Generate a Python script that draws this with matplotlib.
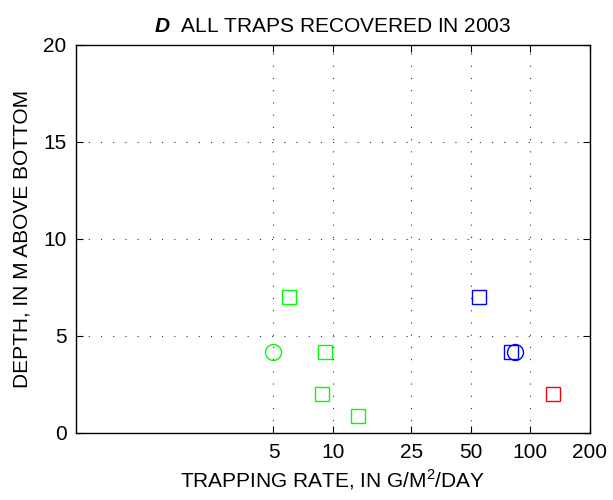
import matplotlib
matplotlib.use("Agg")
import matplotlib.pyplot as plt

plt.rcParams["font.family"] = ["Liberation Sans", "DejaVu Sans"]
plt.rcParams["mathtext.fontset"] = "custom"
plt.rcParams["mathtext.rm"] = "Liberation Sans"
plt.rcParams["mathtext.bfit"] = "Liberation Sans:italic:bold"

# green traps
green_sq_rate = [6.0, 9.1, 8.8, 13.4]
green_sq_depth = [7.0, 4.15, 2.0, 0.9]
green_ci_rate = [5.0]
green_ci_depth = [4.15]

# blue traps
blue_sq_rate = [55, 80]
blue_sq_depth = [7.0, 4.15]
blue_ci_rate = [84]
blue_ci_depth = [4.15]

# red trap
red_sq_rate = [130]
red_sq_depth = [2.0]

xticks = [5, 10, 25, 50, 100, 200]
yticks = [0, 5, 10, 15, 20]

fs = 15

fig = plt.figure(figsize=(6.13, 5.0), dpi=100)
ax = fig.add_axes([0.1243, 0.134, 0.8375, 0.777])

mk = dict(linestyle="none", markerfacecolor="none", markeredgewidth=1.0)
ax.plot(green_sq_rate, green_sq_depth, marker="s", markersize=9.5, color="#00ff00", **mk)
ax.plot(green_ci_rate, green_ci_depth, marker="o", markersize=11.5, color="#00ff00", **mk)
ax.plot(blue_sq_rate, blue_sq_depth, marker="s", markersize=9.5, color="#0000ff", **mk)
ax.plot(blue_ci_rate, blue_ci_depth, marker="o", markersize=11.5, color="#0000ff", **mk)
ax.plot(red_sq_rate, red_sq_depth, marker="s", markersize=9.5, color="#ff0000", **mk)

ax.set_xscale("log")
ax.set_xlim(0.5, 200)
ax.set_ylim(0, 20)
ax.set_xticks(xticks)
ax.set_xticklabels([str(t) for t in xticks])
ax.minorticks_off()
ax.set_yticks(yticks)

for t in xticks[:-1]:
    ax.axvline(t, color="#333333", linestyle=(0, (1, 10)), linewidth=0.8)
for t in yticks[1:-1]:
    ax.axhline(t, color="#333333", linestyle=(0, (1, 10)), linewidth=0.8)

ax.tick_params(direction="in", top=True, right=True, length=5, width=0.8,
               labelsize=fs, pad=7)
for s in ax.spines.values():
    s.set_linewidth(1.0)

ax.set_xlabel("TRAPPING RATE, IN G/M$^2$/DAY", fontsize=fs, labelpad=4)
ax.set_ylabel("DEPTH, IN M ABOVE BOTTOM", fontsize=fs, labelpad=8)
ax.set_title(r"$\mathbfit{D}$  ALL TRAPS RECOVERED IN 2003", fontsize=fs, pad=9)

fig.savefig("out.png", dpi=100)
